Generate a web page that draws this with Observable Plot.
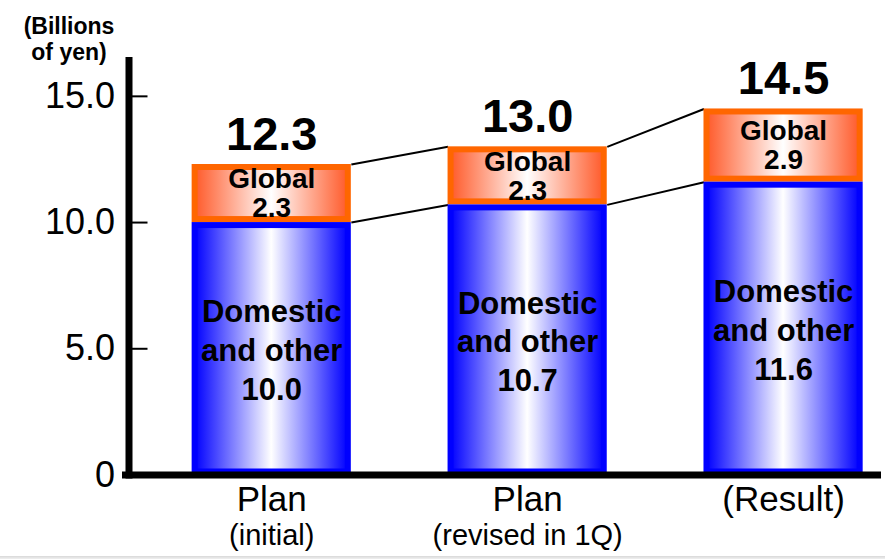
<!DOCTYPE html>
<html>
<head>
<meta charset="utf-8">
<script src="https://cdn.jsdelivr.net/npm/d3@7"></script>
<script src="https://cdn.jsdelivr.net/npm/@observablehq/plot@0.6"></script>
<style>
  html, body { margin: 0; padding: 0; background: #fff; }
  #chart { width: 885px; height: 556px; }
  #band { width: 885px; height: 3px; background: linear-gradient(#d8d8d8, #f0f0f0); }
  svg { font-family: Arial, "Liberation Sans", sans-serif; }
</style>
</head>
<body>
<div id="chart"></div>
<div id="band"></div>
<script>
// ---- data ----
const categories = ["Plan (initial)", "Plan (revised in 1Q)", "(Result)"];
const mainLabels = ["Plan", "Plan", "(Result)"];
const subLabels = ["(initial)", "(revised in 1Q)", ""];
const domestic = [10.0, 10.7, 11.6];
const global = [2.3, 2.3, 2.9];
const totals = [12.3, 13.0, 14.5];
const yTicks = [0, 5, 10, 15];
const unitLabel = "(Billions\nof yen)";

// ---- derived table ----
const hw = 0.311; // bar half width (x units)
const rows = categories.map((c, i) => ({
  i, cat: c, dom: domestic[i], glob: global[i], total: totals[i],
  top: domestic[i] + global[i]
}));
const links = rows.slice(0, -1).map((r, k) => ({
  x1: r.i + hw, x2: rows[k + 1].i - hw,
  yTopA: r.top, yTopB: rows[k + 1].top,
  yDomA: r.dom, yDomB: rows[k + 1].dom
}));

function defs() {
  const d = d3.create("svg:defs");
  const mk = (id, edge) => {
    const g = d.append("linearGradient").attr("id", id)
      .attr("x1", "0%").attr("x2", "100%").attr("y1", "0%").attr("y2", "0%");
    g.append("stop").attr("offset", "0%").attr("stop-color", edge);
    g.append("stop").attr("offset", "50%").attr("stop-color", "#ffffff");
    g.append("stop").attr("offset", "100%").attr("stop-color", edge);
  };
  mk("gradBlue", "#0000ff");
  mk("gradOrange", "#ff5a2a");
  return d.node();
}

const font = 'Arial, "Liberation Sans", sans-serif';

const chart = Plot.plot({
  width: 885,
  height: 556,
  marginLeft: 128.5,
  marginRight: 8,
  marginTop: 60,
  marginBottom: 81.5,
  style: { fontFamily: font, background: "white", overflow: "visible" },
  x: { domain: [-0.5577, 2.367], axis: null },
  y: { domain: [0, 16.42], axis: null },
  marks: [
    defs,
    // connector lines
    Plot.link(links, { x1: "x1", x2: "x2", y1: "yTopA", y2: "yTopB", stroke: "black", strokeWidth: 2 }),
    Plot.link(links, { x1: "x1", x2: "x2", y1: "yDomA", y2: "yDomB", stroke: "black", strokeWidth: 2 }),
    // global segment
    Plot.rect(rows, {
      x1: d => d.i - hw, x2: d => d.i + hw, y1: "dom", y2: "top",
      fill: "url(#gradOrange)", stroke: "#ff6600", strokeWidth: 6, inset: 3
    }),
    // domestic segment
    Plot.rect(rows, {
      x1: d => d.i - hw, x2: d => d.i + hw, y1: 0, y2: "dom",
      fill: "url(#gradBlue)", stroke: "#0000ff", strokeWidth: 6, inset: 3
    }),
    // in-bar labels
    Plot.text(rows, {
      x: "i", y: d => d.dom + d.glob / 2,
      text: d => `Global\n${d.glob.toFixed(1)}`,
      fontSize: 28, fontWeight: "bold", lineHeight: 1.04, fill: "black"
    }),
    Plot.text(rows, {
      x: "i", y: d => d.dom / 2,
      text: d => `Domestic\nand other\n${d.dom.toFixed(1)}`,
      fontSize: 31, fontWeight: "bold", lineHeight: 1.25, fill: "black"
    }),
    // totals
    Plot.text(rows, {
      x: "i", y: "top", text: d => d.total.toFixed(1),
      lineAnchor: "bottom", dy: -15, fontSize: 47, fontWeight: "bold", fill: "black"
    }),
    // axes frame
    Plot.frame({ anchor: "left", stroke: "black", strokeWidth: 7 }),
    Plot.frame({ anchor: "bottom", stroke: "black", strokeWidth: 7, insetLeft: -3.5 }),
    Plot.axisY({
      ticks: yTicks, anchor: "right", frameAnchor: "left",
      tickSize: 18, strokeWidth: 2, tickFormat: () => ""
    }),
    Plot.axisY({
      ticks: yTicks, anchor: "left", tickSize: 0, tickPadding: 14,
      tickFormat: d => d === 0 ? "0" : d.toFixed(1),
      fontSize: 36, fill: "black", label: null
    }),
    // x labels
    Plot.text(rows, {
      x: "i", frameAnchor: "bottom", lineAnchor: "bottom", text: d => mainLabels[d.i],
      dy: 36, fontSize: 35, fill: "black"
    }),
    Plot.text(rows, {
      x: "i", frameAnchor: "bottom", lineAnchor: "bottom", text: d => subLabels[d.i],
      dy: 70, fontSize: 29, fill: "black"
    }),
    // unit label
    Plot.text([unitLabel], {
      frameAnchor: "top-left", textAnchor: "middle", text: d => d, dx: -60, dy: -45,
      lineAnchor: "top", fontSize: 23, fontWeight: "bold", lineHeight: 1.12, fill: "black"
    })
  ]
});
document.getElementById("chart").appendChild(chart);
</script>
</body>
</html>
